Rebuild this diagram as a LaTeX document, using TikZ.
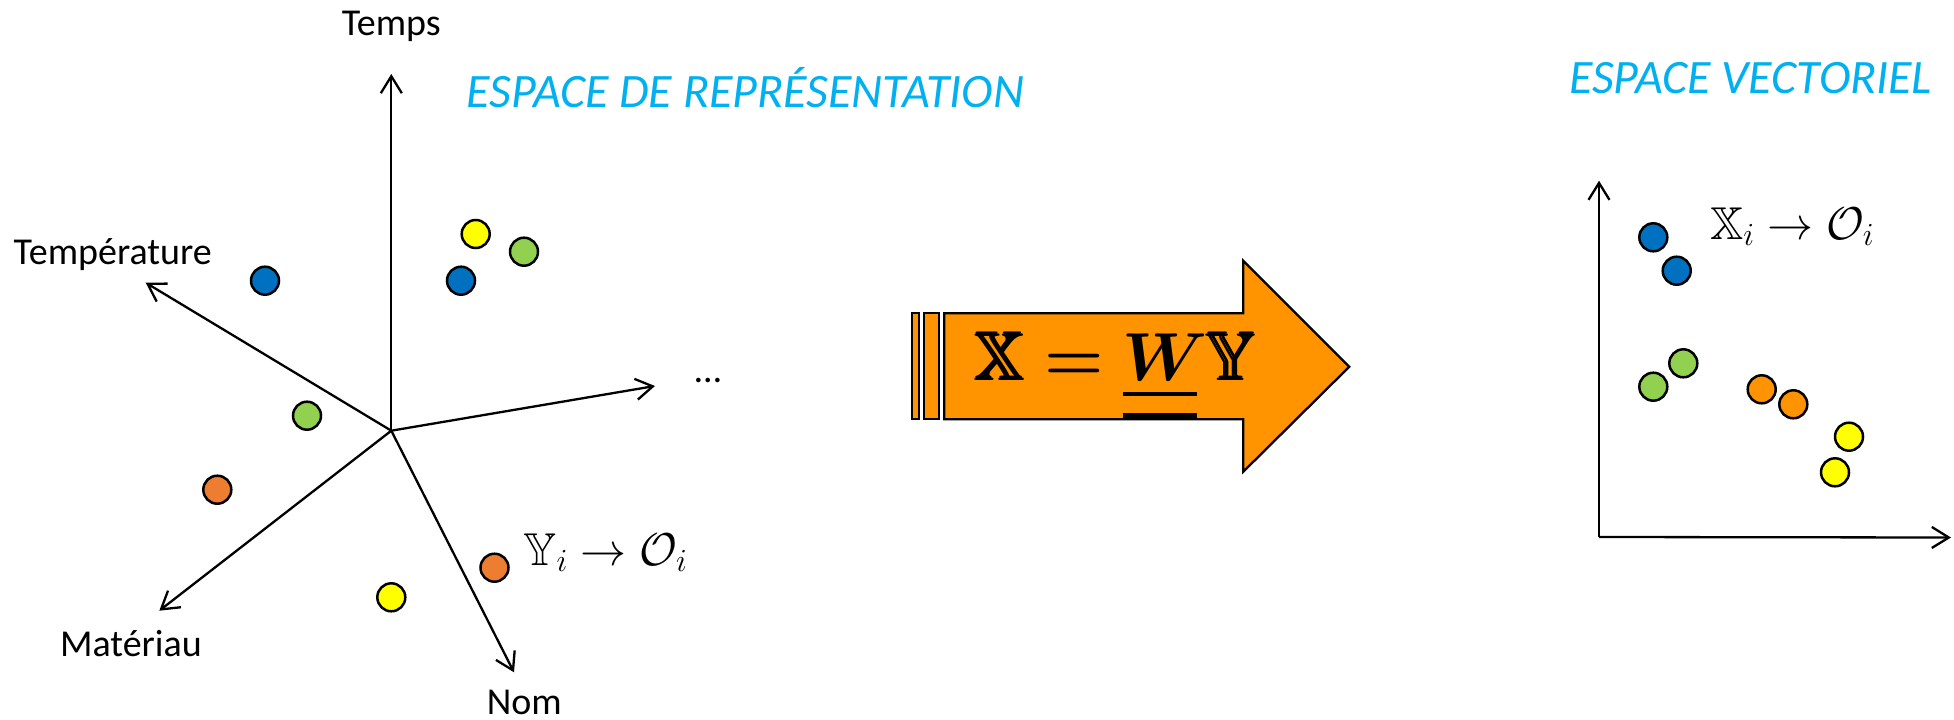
\RequirePackage{fix-cm}
\documentclass[tikz,border=0pt]{standalone}
\usepackage{amsmath,amssymb,bm}
\usepackage[no-math]{fontspec}
\setmainfont{Carlito}
\usetikzlibrary{arrows.meta}
\definecolor{bluec}{HTML}{0070C0}
\definecolor{greenc}{HTML}{92D050}
\definecolor{yellowc}{HTML}{FFFF00}
\definecolor{orangeL}{HTML}{ED7D31}
\definecolor{orangeR}{HTML}{FF9300}
\definecolor{titlec}{HTML}{00B0F0}
\newcommand{\dblul}[1]{\vtop{\hbox{$#1$}\kern11.6pt\hrule height 4.7pt width 74pt\kern17pt\hrule height 4.7pt width 74pt}}
\begin{document}
\begin{tikzpicture}[x=1pt,y=-1pt,
  axis/.style={line width=2.3pt,-{Straight Barb[length=17pt,width=21pt]}},
  dot/.style={circle,draw=black,line width=2.5pt,minimum size=28pt,inner sep=0pt},
  lab/.style={inner sep=0pt,font=\fontsize{38}{44}\selectfont},
  ttl/.style={inner sep=0pt,text=titlec,font=\fontsize{48}{54}\selectfont\itshape},
  mth/.style={inner sep=0pt,font=\fontsize{46}{52}\selectfont},
  shp/.style={draw=black,line width=2.3pt,fill=orangeR,line join=miter}]
\useasboundingbox (0,0) rectangle (1954,720);
% left axes
\coordinate (O) at (391.3,430.7);
\coordinate (tTemps) at (391.3,74);
\coordinate (tTemp) at (145.7,282.7);
\coordinate (tDots) at (655,386);
\coordinate (tMat) at (159.3,610.7);
\coordinate (tNom) at (514,672.3);
\draw[axis] (O) -- (tTemps);
\draw[axis] (O) -- (tTemp);
\draw[axis] (O) -- (tDots);
\draw[axis] (O) -- (tMat);
\draw[axis] (O) -- (tNom);
\node[lab,anchor=base] (lTemps) at (391.3,35) {Temps};
\node[lab,anchor=base] (lTemp) at (112.7,264) {Température};
\node[lab,anchor=base] (lMat) at (131,656.7) {Matériau};
\node[lab,anchor=base] (lNom) at (524.3,714) {Nom};
\node[lab,anchor=base] (lDots) at (708,382) {…};
\node[ttl,anchor=base west] (t1) at (466.7,107.3) {ESPACE DE REPRÉSENTATION};
% left dots
\node[dot,fill=yellowc] (a1) at (475.7,234) {};
\node[dot,fill=greenc] (a2) at (524,251.7) {};
\node[dot,fill=bluec] (a3) at (461,280.7) {};
\node[dot,fill=bluec] (a4) at (265,280.7) {};
\node[dot,fill=greenc] (a5) at (307,415.7) {};
\node[dot,fill=orangeL] (a6) at (217.3,489.7) {};
\node[dot,fill=orangeL] (a7) at (494.5,567.7) {};
\node[dot,fill=yellowc] (a8) at (391.3,597.3) {};
\node[mth,anchor=base west] (m1) at (523.3,565) {$\mathbb{Y}_i \to \mathcal{O}_i$};
% big arrow
\path[shp] (911.7,313.3) rectangle (919.3,419.3);
\path[shp] (924.3,313.3) rectangle (939,419.3);
\path[shp] (944.3,313.3) -- (1243.3,313.3) -- (1243.3,260.7) -- (1349.3,366.7)
  -- (1243.3,471.7) -- (1243.3,419.3) -- (944.3,419.3) -- cycle;
\node[inner sep=0pt,anchor=base west,font=\fontsize{68}{80}\selectfont] (eq) at (976,380)
  {$\pmb{\mathbb{X}}\bm{=}\dblul{\bm{W}}\pmb{\mathbb{Y}}$};
% right panel
\node[ttl,anchor=base west] (t2) at (1569,93.3) {ESPACE VECTORIEL};
\coordinate (C) at (1599,537);
\coordinate (tUp) at (1599,180.7);
\coordinate (tRight) at (1951,537.5);
\draw[axis] (C) -- (tUp);
\draw[axis] (C) -- (tRight);
\node[dot,fill=bluec] (b1) at (1653.3,237.3) {};
\node[dot,fill=bluec] (b2) at (1676.7,270.7) {};
\node[dot,fill=greenc] (b3) at (1653.3,386.7) {};
\node[dot,fill=greenc] (b4) at (1683.3,363.3) {};
\node[dot,fill=orangeR] (b5) at (1761.7,389.3) {};
\node[dot,fill=orangeR] (b6) at (1793.3,404.3) {};
\node[dot,fill=yellowc] (b7) at (1849,436.7) {};
\node[dot,fill=yellowc] (b8) at (1835,472.3) {};
\node[mth,anchor=base west] (m2) at (1710,239) {$\mathbb{X}_i \to \mathcal{O}_i$};
\end{tikzpicture}
\end{document}
